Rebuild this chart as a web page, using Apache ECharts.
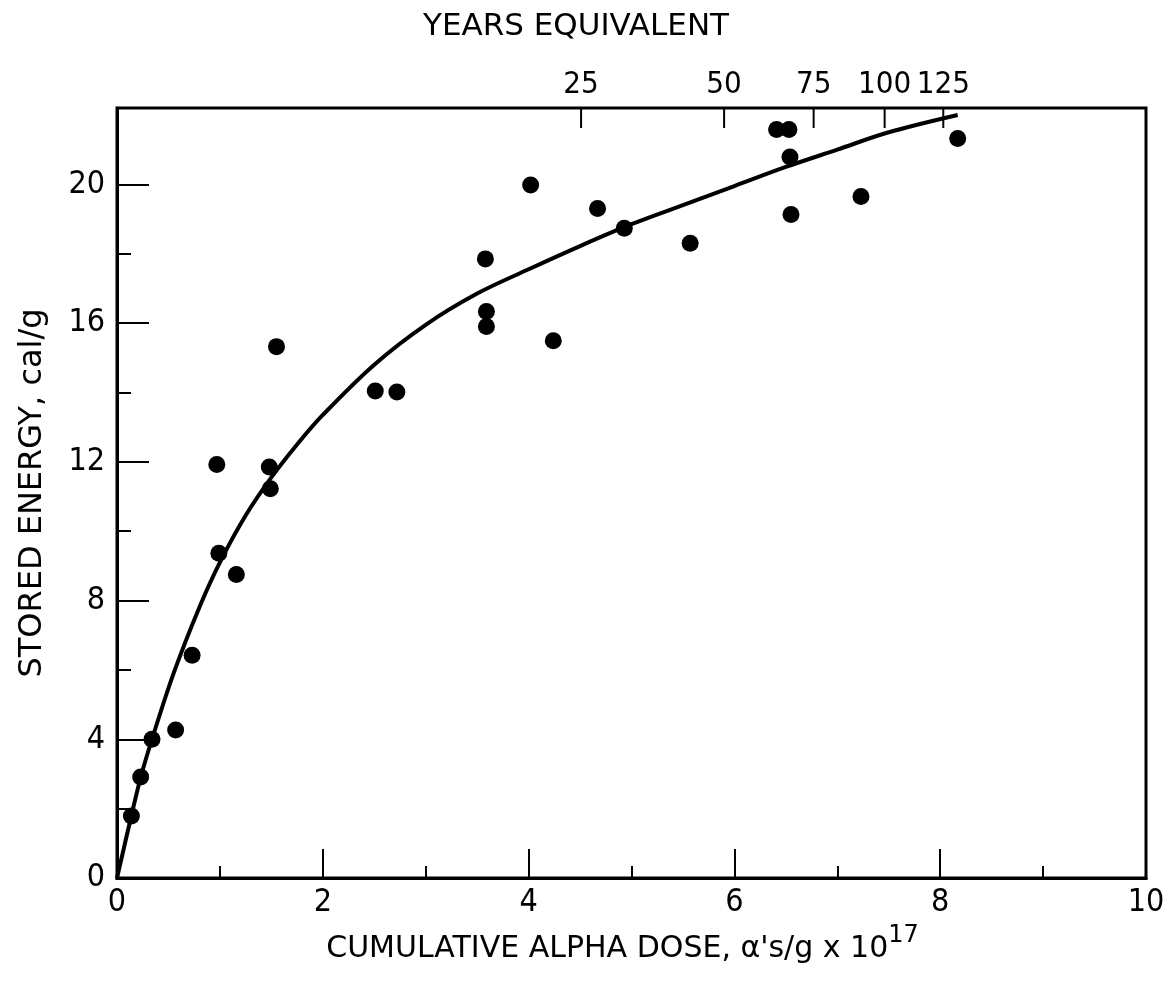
<!DOCTYPE html>
<html>
<head>
<meta charset="utf-8">
<title>Stored energy vs cumulative alpha dose</title>
<script src="https://cdn.jsdelivr.net/npm/echarts@6.0.0/dist/echarts.min.js"></script>
<style>
    html, body { margin: 0; padding: 0; background: #fff; }
    #chart { width: 1171px; height: 992px; }
</style>
</head>
<body>
<div id="chart"></div>
<script>
// measured points (dose in 1e17 alpha/g, stored energy in cal/g)
const doseValues = [0.14, 0.23, 0.34, 0.57, 0.73, 0.97, 0.99, 1.16, 1.48, 1.49, 1.55,
    2.51, 2.72, 3.58, 3.59, 3.59, 4.02, 4.24, 4.67, 4.93, 5.57,
    6.41, 6.53, 6.54, 6.55, 7.23, 8.17];
const energyValues = [1.79, 2.91, 4.0, 4.27, 6.42, 11.92, 9.36, 8.75, 11.85, 11.22, 15.32,
    14.04, 14.01, 17.85, 16.33, 15.9, 19.98, 15.49, 19.3, 18.73, 18.3,
    21.58, 21.58, 20.79, 19.13, 19.65, 21.32];

// hand-drawn fit curve
const fitDose = [0, 0.14, 0.23, 0.34, 0.55, 0.8, 1.0, 1.25, 1.5, 1.75, 2.0, 2.5, 3.0,
    3.5, 4.0, 4.5, 5.0, 5.5, 6.0, 6.5, 7.0, 7.5, 8.17];
const fitEnergy = [0, 1.8, 2.9, 4.0, 5.9, 7.8, 9.1, 10.45, 11.55, 12.5, 13.35, 14.8, 15.95,
    16.85, 17.55, 18.22, 18.85, 19.4, 19.95, 20.5, 21.0, 21.5, 22.0];

// axis ticks
const energyMajorTicks = [0, 4, 8, 12, 16, 20];
const energyMinorTicks = [2, 6, 10, 14, 18];

// top scale: years equivalent
const yearLabels = ['25', '50', '75', '100', '125'];
const yearDose = [4.51, 5.90, 6.77, 7.46, 8.03];

document.addEventListener('DOMContentLoaded', () => {
    const FONT = "'DejaVu Sans Condensed', 'Liberation Sans Narrow', sans-serif";
    const TITLE_FONT = "'DejaVu Sans', sans-serif";
    const Y_MAX = 22.2;
    const chart = echarts.init(document.getElementById('chart'), null, { renderer: 'canvas' });

    const points = doseValues.map((x, i) => [x, energyValues[i]]);
    const fitLine = fitDose.map((x, i) => [x, fitEnergy[i]]);
    // short marks hanging down from the top frame
    const yearTickMarks = yearDose.map(d => [d, Y_MAX]);

    const option = {
        animation: false,
        backgroundColor: '#fff',
        title: {
            text: 'YEARS EQUIVALENT',
            left: 571,
            top: 6,
            textAlign: 'center',
            textStyle: { fontFamily: TITLE_FONT, fontSize: 31, fontWeight: 'normal', color: '#000' }
        },
        grid: {
            left: 117,
            right: 25,
            top: 108,
            bottom: 114,
            show: true,
            borderColor: '#000',
            borderWidth: 3,
            backgroundColor: 'transparent'
        },
        xAxis: [{
            type: 'value',
            min: 0,
            max: 10,
            interval: 2,
            name: "{t|CUMULATIVE ALPHA DOSE, α's/g x 10}{s|17}",
            nameLocation: 'middle',
            nameGap: 44,
            nameTextStyle: {
                padding: [0, 18, 0, 0],
                rich: {
                    t: { fontFamily: TITLE_FONT, fontSize: 30, color: '#000', verticalAlign: 'bottom' },
                    s: { fontFamily: TITLE_FONT, fontSize: 24, color: '#000', verticalAlign: 'top', padding: [0, 0, 16, 0] }
                }
            },
            axisLine: { show: true, lineStyle: { color: '#000', width: 3 } },
            axisTick: { show: true, inside: true, length: 29, lineStyle: { color: '#000', width: 2 } },
            minorTick: { show: true, splitNumber: 2, length: 12, lineStyle: { color: '#000', width: 2 } },
            axisLabel: { margin: 9, fontFamily: FONT, fontSize: 32, color: '#000' },
            splitLine: { show: false }
        }, {
            type: 'value',
            position: 'top',
            min: 0,
            max: 10,
            axisLine: { show: true, lineStyle: { color: '#000', width: 3 } },
            axisTick: { show: false },
            axisLabel: {
                show: true,
                margin: 8,
                customValues: yearDose,
                fontFamily: FONT,
                fontSize: 31,
                color: '#000',
                formatter: (v) => {
                    const idx = yearDose.findIndex(d => Math.abs(d - v) < 1e-6);
                    return idx >= 0 ? yearLabels[idx] : '';
                }
            },
            splitLine: { show: false }
        }],
        yAxis: [{
            type: 'value',
            min: 0,
            max: Y_MAX,
            name: 'STORED ENERGY, cal/g',
            nameLocation: 'middle',
            nameGap: 68,
            nameTextStyle: { fontFamily: TITLE_FONT, fontSize: 32, color: '#000' },
            axisLine: { show: true, lineStyle: { color: '#000', width: 3 } },
            axisTick: {
                show: true, inside: true, length: 32,
                customValues: energyMajorTicks,
                lineStyle: { color: '#000', width: 2 }
            },
            axisLabel: {
                margin: 12, fontFamily: FONT, fontSize: 32, color: '#000',
                customValues: energyMajorTicks
            },
            splitLine: { show: false }
        }, {
            // minor ticks only
            type: 'value',
            position: 'left',
            min: 0,
            max: Y_MAX,
            axisLine: { show: false },
            axisTick: {
                show: true, inside: true, length: 14,
                customValues: energyMinorTicks,
                lineStyle: { color: '#000', width: 2 }
            },
            axisLabel: { show: false },
            splitLine: { show: false }
        }],
        series: [{
            name: 'fit',
            type: 'line',
            data: fitLine,
            smooth: 0.35,
            showSymbol: false,
            lineStyle: { color: '#000', width: 4 },
            z: 2
        }, {
            name: 'measured',
            type: 'scatter',
            data: points,
            symbol: 'circle',
            symbolSize: 17,
            itemStyle: { color: '#000', opacity: 1 },
            z: 3
        }, {
            name: 'year ticks',
            type: 'scatter',
            data: yearTickMarks,
            symbol: 'rect',
            symbolSize: [2, 20],
            symbolOffset: [0, 10],
            clip: false,
            silent: true,
            itemStyle: { color: '#000', opacity: 1 },
            z: 4
        }]
    };

    chart.setOption(option);
});
</script>
</body>
</html>
